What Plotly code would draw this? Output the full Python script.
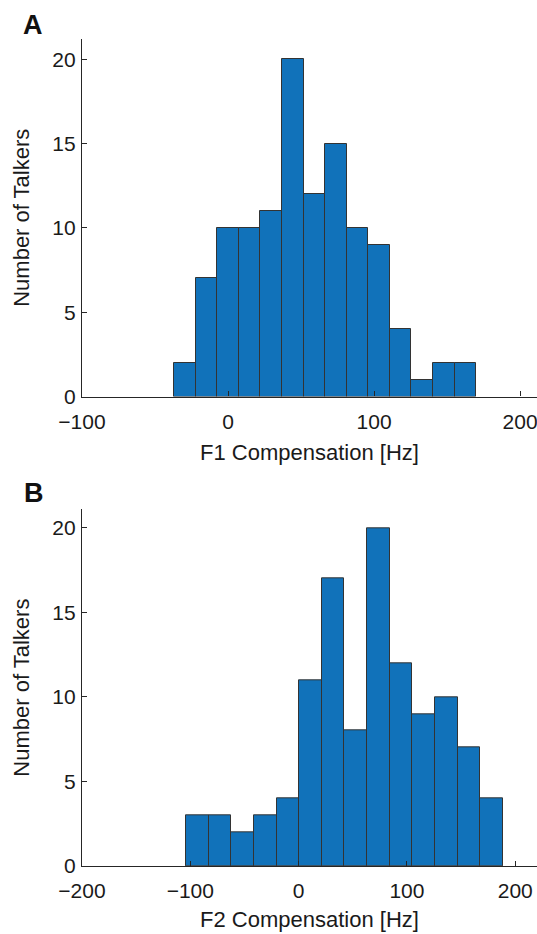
import numpy as np
import plotly.graph_objects as go
from plotly.subplots import make_subplots

# Panel A: F1 compensation histogram
f1_edges = [-36.8, -22.0, -7.3, 7.5, 22.2, 37.0, 51.8, 66.5, 81.3, 96.0, 110.8, 125.6, 140.3, 155.1, 169.8]
f1_counts = [2, 7, 10, 10, 11, 20, 12, 15, 10, 9, 4, 1, 2, 2]
f1_ticks = [-100, 0, 100, 200]

# Panel B: F2 compensation histogram
f2_edges = [-104.0, -83.1, -62.2, -41.3, -20.4, 0.5, 21.4, 42.3, 63.2, 84.1, 105.0, 125.9, 146.8, 167.7, 188.6]
f2_counts = [3, 3, 2, 3, 4, 11, 17, 8, 20, 12, 9, 10, 7, 4]
f2_ticks = [-200, -100, 0, 100, 200]

y_ticks = [0, 5, 10, 15, 20]

BAR = "#1172BA"
EDGE = "#333333"
AX = "#262626"
FONT = "Liberation Sans"

fig = make_subplots(rows=2, cols=1, vertical_spacing=0.0)

def add_hist(edges, counts, row):
    e = np.array(edges, dtype=float)
    fig.add_trace(go.Bar(
        x=e[:-1], y=counts, width=np.diff(e), offset=0,
        marker=dict(color=BAR, line=dict(color=EDGE, width=1)),
        showlegend=False, hoverinfo="skip"), row=row, col=1)

add_hist(f1_edges, f1_counts, 1)
add_hist(f2_edges, f2_counts, 2)

axis_common = dict(showline=True, linecolor=AX, linewidth=1.3, ticks="inside",
                   ticklen=5, tickwidth=1.2, tickcolor=AX, showgrid=False,
                   zeroline=False, tickfont=dict(family=FONT, size=21, color="#1a1a1a"),
                   mirror=False)

fig.update_layout(
    width=537, height=934,
    margin=dict(l=82, r=0, t=39, b=68),
    plot_bgcolor="white", paper_bgcolor="white",
    bargap=0,
    font=dict(family=FONT, size=21, color="#1a1a1a"),
    xaxis=dict(domain=[0, 1], range=[-100, 211.6], tickvals=f1_ticks, **axis_common,
               title=dict(text="F1 Compensation [Hz]", font=dict(size=22), standoff=12),
               ticklabeloverflow="allow", ticklabelstandoff=6),
    yaxis=dict(domain=[0.5677, 1.0], range=[0, 21.2], tickvals=y_ticks, **axis_common,
               title=dict(text="Number of Talkers", font=dict(size=22), standoff=16),
               ticklabelstandoff=1),
    xaxis2=dict(domain=[0, 1], range=[-200, 220.1], tickvals=f2_ticks, **axis_common,
                title=dict(text="F2 Compensation [Hz]", font=dict(size=22), standoff=10),
                ticklabeloverflow="allow", ticklabelstandoff=6),
    yaxis2=dict(domain=[0.0, 0.4313], range=[0, 21.1], tickvals=y_ticks, **axis_common,
                title=dict(text="Number of Talkers", font=dict(size=22), standoff=16),
                ticklabelstandoff=1),
)

fig.add_annotation(text="<b>A</b>", xref="paper", yref="paper", x=-0.108, y=1.0 + 14.5/827,
                   xanchor="center", yanchor="middle", showarrow=False,
                   font=dict(family=FONT, size=27, color="#111"))
fig.add_annotation(text="<b>B</b>", xref="paper", yref="paper", x=-0.106, y=(866 - 493) / 827,
                   xanchor="center", yanchor="middle", showarrow=False,
                   font=dict(family=FONT, size=27, color="#111"))

fig.write_html("out.html")
